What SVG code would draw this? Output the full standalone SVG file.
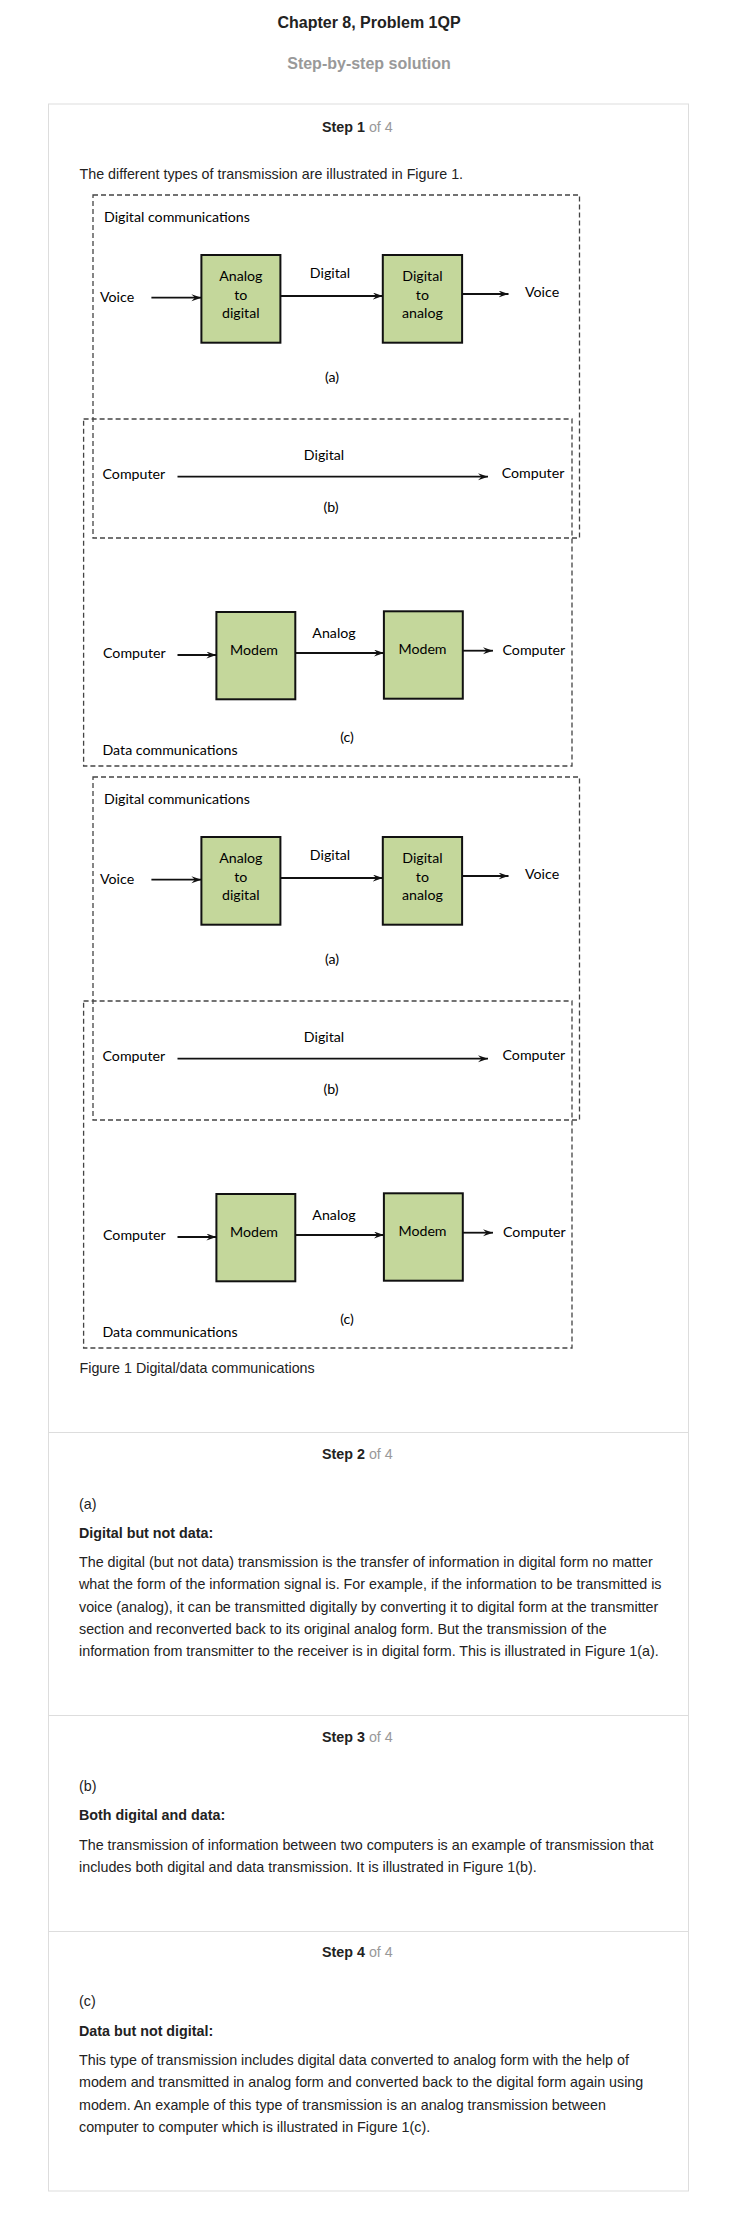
<svg xmlns="http://www.w3.org/2000/svg" width="738" height="2218" viewBox="0 0 738 2218">
<style>
.t{font-family:"Liberation Sans",Arial,sans-serif;fill:#222;font-size:14.3px}
.b{font-weight:bold}
.g{fill:#999;font-weight:normal}
.d{font-family:Lato,"Open Sans",sans-serif;font-size:14.2px;fill:#000}
.m{text-anchor:middle}
.box{fill:#c4d79b;stroke:#111;stroke-width:2}
.dash{fill:none;stroke:#444;stroke-width:1.3;stroke-dasharray:5,3}
.ln{stroke:#111;stroke-width:1.8;fill:none;marker-end:url(#arr)}
.card{fill:none;stroke:#ddd;stroke-width:1}
</style>
<defs>
<marker id="arr" markerWidth="11" markerHeight="8" refX="10" refY="3.5" orient="auto" markerUnits="userSpaceOnUse"><path d="M0,0 L10,3.5 L0,7 L3.5,3.5 z" fill="#111"/></marker>
</defs>
<rect width="738" height="2218" fill="#fff"/>
<g id="header">
<text class="t b m" x="369" y="28" style="font-size:16px">Chapter 8, Problem 1QP</text>
<text class="t b m" x="369" y="69" style="font-size:16px;fill:#999">Step-by-step solution</text>
</g>
<g id="card">
<rect class="card" x="48.5" y="104" width="640" height="2087"/>
<line class="card" x1="48.5" y1="1432.5" x2="688.5" y2="1432.5"/>
<line class="card" x1="48.5" y1="1715.5" x2="688.5" y2="1715.5"/>
<line class="card" x1="48.5" y1="1931.5" x2="688.5" y2="1931.5"/>
</g>
<g id="step1">
<text class="t b" x="322" y="131.5">Step 1 <tspan class="g">of 4</tspan></text>
<text class="t" x="79.5" y="178.5">The different types of transmission are illustrated in Figure 1.</text>
<text class="t" x="79.5" y="1373">Figure 1 Digital/data communications</text>
</g>

<g id="figure-1">
<g id="fig1-digital-frame"><rect class="dash" x="93" y="195" width="486.5" height="343"/><text class="d" x="104" y="221.5">Digital communications</text></g>
<g id="fig1-data-frame"><rect class="dash" x="83.6" y="419" width="488.4" height="347"/><text class="d" x="102.5" y="755">Data communications</text></g>
<g id="fig1-voice-in"><text class="d" x="100" y="301.5">Voice</text></g>
<g id="fig1-a2d"><rect class="box" x="201.4" y="255" width="79" height="87.7"/><text class="d m" x="240.8" y="281">Analog</text><text class="d m" x="240.8" y="299.5">to</text><text class="d m" x="240.8" y="318">digital</text></g>
<g id="fig1-d2a"><rect class="box" x="382.8" y="255" width="79.3" height="87.7"/><text class="d m" x="422.4" y="281">Digital</text><text class="d m" x="422.4" y="299.5">to</text><text class="d m" x="422.4" y="318">analog</text></g>
<g id="fig1-voice-out"><text class="d" x="525" y="297.3">Voice</text></g>
<g id="fig1-label-a"><text class="d m" x="332" y="381.5">(a)</text></g>
<g id="fig1-comp-b-in"><text class="d" x="102.5" y="479">Computer</text></g>
<g id="fig1-comp-b-out"><text class="d" x="501.7" y="478">Computer</text></g>
<g id="fig1-label-b"><text class="d m" x="331" y="512">(b)</text></g>
<g id="fig1-comp-c-in"><text class="d" x="103" y="658">Computer</text></g>
<g id="fig1-modem1"><rect class="box" x="216.4" y="612" width="78.9" height="87.3"/><text class="d m" x="254" y="655">Modem</text></g>
<g id="fig1-modem2"><rect class="box" x="383.9" y="611.3" width="78.9" height="87.4"/><text class="d m" x="422.5" y="654.3">Modem</text></g>
<g id="fig1-comp-c-out"><text class="d" x="502.5" y="654.5">Computer</text></g>
<g id="fig1-label-c"><text class="d m" x="347" y="741.5">(c)</text></g>
<g id="fig1-connectors">
<line class="ln" x1="151.4" y1="297.7" x2="201.4" y2="297.7"/>
<line class="ln" x1="280.3" y1="296" x2="382.8" y2="296"/>
<text class="d m" x="330" y="277.5">Digital</text>
<line class="ln" x1="462.1" y1="294" x2="508.5" y2="294"/>
<line class="ln" x1="177.5" y1="476.7" x2="488" y2="476.7"/>
<text class="d m" x="324" y="459.5">Digital</text>
<line class="ln" x1="177.5" y1="655" x2="216.4" y2="655"/>
<line class="ln" x1="295.3" y1="653" x2="383.9" y2="653"/>
<text class="d m" x="334" y="638">Analog</text>
<line class="ln" x1="462.8" y1="650.7" x2="493" y2="650.7"/>
</g>
</g>

<g id="figure-2" transform="translate(0,582)">
<g id="fig2-digital-frame"><rect class="dash" x="93" y="195" width="486.5" height="343"/><text class="d" x="104" y="221.5">Digital communications</text></g>
<g id="fig2-data-frame"><rect class="dash" x="83.6" y="419" width="488.4" height="347"/><text class="d" x="102.5" y="755">Data communications</text></g>
<g id="fig2-voice-in"><text class="d" x="100" y="301.5">Voice</text></g>
<g id="fig2-a2d"><rect class="box" x="201.4" y="255" width="79" height="87.7"/><text class="d m" x="240.8" y="281">Analog</text><text class="d m" x="240.8" y="299.5">to</text><text class="d m" x="240.8" y="318">digital</text></g>
<g id="fig2-d2a"><rect class="box" x="382.8" y="255" width="79.3" height="87.7"/><text class="d m" x="422.4" y="281">Digital</text><text class="d m" x="422.4" y="299.5">to</text><text class="d m" x="422.4" y="318">analog</text></g>
<g id="fig2-voice-out"><text class="d" x="525" y="297.3">Voice</text></g>
<g id="fig2-label-a"><text class="d m" x="332" y="381.5">(a)</text></g>
<g id="fig2-comp-b-in"><text class="d" x="102.5" y="479">Computer</text></g>
<g id="fig2-comp-b-out"><text class="d" x="502.5" y="478">Computer</text></g>
<g id="fig2-label-b"><text class="d m" x="331" y="512">(b)</text></g>
<g id="fig2-comp-c-in"><text class="d" x="103" y="658">Computer</text></g>
<g id="fig2-modem1"><rect class="box" x="216.4" y="612" width="78.9" height="87.3"/><text class="d m" x="254" y="655">Modem</text></g>
<g id="fig2-modem2"><rect class="box" x="383.9" y="611.3" width="78.9" height="87.4"/><text class="d m" x="422.5" y="654.3">Modem</text></g>
<g id="fig2-comp-c-out"><text class="d" x="503" y="654.5">Computer</text></g>
<g id="fig2-label-c"><text class="d m" x="347" y="741.5">(c)</text></g>
<g id="fig2-connectors">
<line class="ln" x1="151.4" y1="297.7" x2="201.4" y2="297.7"/>
<line class="ln" x1="280.3" y1="296" x2="382.8" y2="296"/>
<text class="d m" x="330" y="277.5">Digital</text>
<line class="ln" x1="462.1" y1="294" x2="508.5" y2="294"/>
<line class="ln" x1="177.5" y1="476.7" x2="488" y2="476.7"/>
<text class="d m" x="324" y="459.5">Digital</text>
<line class="ln" x1="177.5" y1="655" x2="216.4" y2="655"/>
<line class="ln" x1="295.3" y1="653" x2="383.9" y2="653"/>
<text class="d m" x="334" y="638">Analog</text>
<line class="ln" x1="462.8" y1="650.7" x2="493" y2="650.7"/>
</g>
</g>

<g id="step2">
<text class="t b" x="322" y="1459">Step 2 <tspan class="g">of 4</tspan></text>
<text class="t" x="79" y="1508.5">(a)</text>
<text class="t b" x="79" y="1537.5">Digital but not data:</text>
<text class="t" x="79" y="1567">The digital (but not data) transmission is the transfer of information in digital form no matter</text>
<text class="t" x="79" y="1589.3">what the form of the information signal is. For example, if the information to be transmitted is</text>
<text class="t" x="79" y="1611.6">voice (analog), it can be transmitted digitally by converting it to digital form at the transmitter</text>
<text class="t" x="79" y="1633.9">section and reconverted back to its original analog form. But the transmission of the</text>
<text class="t" x="79" y="1656.2">information from transmitter to the receiver is in digital form. This is illustrated in Figure 1(a).</text>
</g>
<g id="step3">
<text class="t b" x="322" y="1742">Step 3 <tspan class="g">of 4</tspan></text>
<text class="t" x="79" y="1791">(b)</text>
<text class="t b" x="79" y="1820">Both digital and data:</text>
<text class="t" x="79" y="1850">The transmission of information between two computers is an example of transmission that</text>
<text class="t" x="79" y="1872">includes both digital and data transmission. It is illustrated in Figure 1(b).</text>
</g>
<g id="step4">
<text class="t b" x="322" y="1957">Step 4 <tspan class="g">of 4</tspan></text>
<text class="t" x="79" y="2006">(c)</text>
<text class="t b" x="79" y="2036">Data but not digital:</text>
<text class="t" x="79" y="2065">This type of transmission includes digital data converted to analog form with the help of</text>
<text class="t" x="79" y="2087.4">modem and transmitted in analog form and converted back to the digital form again using</text>
<text class="t" x="79" y="2109.8">modem. An example of this type of transmission is an analog transmission between</text>
<text class="t" x="79" y="2132.2">computer to computer which is illustrated in Figure 1(c).</text>
</g>
</svg>
